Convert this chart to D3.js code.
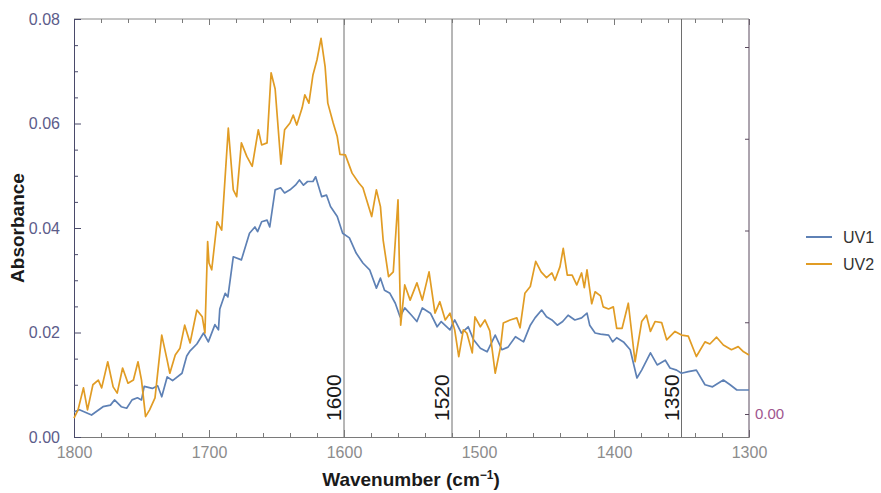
<!DOCTYPE html>
<html>
<head>
<meta charset="utf-8">
<script src="https://cdn.jsdelivr.net/npm/d3@7"></script>
<style>
  html, body { margin: 0; padding: 0; background: #fff; }
  svg { display: block; font-family: "Liberation Sans", Arial, sans-serif; }
</style>
</head>
<body>
<svg id="chart" width="881" height="493"></svg>
<script>
// IR absorbance spectra, wavenumber (cm^-1) vs absorbance
const uv1Wavenumber = [1800,1796,1787,1778.5,1773,1770,1765,1761,1757,1753,1750,1748,1742,1738,1735,1731,1727,1720,1716.5,1714,1709,1704,1700.5,1695.6,1693,1692,1688,1686,1682,1676,1670,1666,1664,1661,1657,1655,1651,1647,1644,1640,1636,1633,1630,1627,1623,1621,1616.5,1613,1610,1605,1601,1596,1591,1586,1581,1576,1573,1570,1566,1562,1558.5,1555,1550,1546,1542,1536,1531,1528,1521.5,1518,1513,1508,1504,1499,1494,1488,1483,1478.5,1473,1467,1462,1458.5,1453.6,1450,1446,1442,1438,1434,1429,1424,1420,1418,1414,1410,1404,1401,1398,1393,1388,1383,1379.5,1373,1368,1362,1358.5,1353.6,1350,1345,1339,1332.6,1327,1319,1314,1309,1304,1300];
const uv1Absorbance = [0.0048,0.0052,0.0042,0.0058,0.0061,0.0071,0.0058,0.0055,0.0071,0.0075,0.0071,0.0097,0.0093,0.0098,0.0077,0.0115,0.0108,0.0122,0.0155,0.0165,0.0178,0.0199,0.0182,0.0215,0.0205,0.0245,0.0275,0.0268,0.0345,0.0339,0.0390,0.0402,0.0393,0.0412,0.0415,0.0402,0.0473,0.0477,0.0467,0.0473,0.0482,0.0492,0.0482,0.0489,0.0489,0.0498,0.0460,0.0463,0.0441,0.0422,0.0390,0.0381,0.0352,0.0333,0.0320,0.0285,0.0304,0.0281,0.0275,0.0256,0.0230,0.0247,0.0233,0.0221,0.0247,0.0237,0.0211,0.0221,0.0205,0.0224,0.0199,0.0211,0.0186,0.0170,0.0163,0.0195,0.0167,0.0172,0.0192,0.0182,0.0214,0.0228,0.0243,0.0230,0.0224,0.0214,0.0221,0.0233,0.0224,0.0228,0.0237,0.0214,0.0199,0.0197,0.0195,0.0182,0.0190,0.0182,0.0167,0.0113,0.0128,0.0161,0.0138,0.0147,0.0132,0.0128,0.0122,0.0125,0.0128,0.0100,0.0096,0.0109,0.0100,0.0090,0.0090,0.0090];

const uv2Wavenumber = [1800,1797,1793,1790,1786,1782,1779.5,1775,1771,1768,1764,1760,1756,1752.6,1750,1747,1744,1740,1735,1731,1729,1725,1721.5,1718,1714,1709,1705,1703,1701,1700,1698,1694,1690.6,1685.7,1682,1679.5,1676,1672,1668,1663.5,1661,1657,1654,1651,1646.7,1644,1640,1637.6,1635,1631,1629,1626,1623,1620,1617,1614,1612,1608,1605,1603,1599,1594,1589,1586,1579.5,1576,1573,1571,1567,1563.5,1560,1558,1555,1551,1546,1542,1537,1532.6,1529,1525,1521.5,1518,1515,1511.6,1509,1505,1503,1499,1495.6,1492,1488,1484,1482,1477,1472,1469.6,1466,1462,1458,1454,1450,1446,1443.7,1440,1437.6,1434.6,1431,1427.6,1424,1422,1420,1416.5,1414,1410,1408,1404,1400.5,1398,1394,1389.4,1384.4,1379.5,1376,1373,1369.6,1364.7,1361,1354.8,1350,1345,1339,1332.6,1329,1324,1319,1313,1308,1304,1300];
const uv2Absorbance = [0.0036,0.0052,0.0094,0.0052,0.0100,0.0109,0.0094,0.0144,0.0096,0.0084,0.0132,0.0103,0.0109,0.0144,0.0109,0.0039,0.0052,0.0075,0.0195,0.0147,0.0122,0.0157,0.0170,0.0214,0.0180,0.0243,0.0230,0.0199,0.0374,0.0333,0.0320,0.0412,0.0396,0.0591,0.0473,0.0460,0.0563,0.0537,0.0518,0.0588,0.0559,0.0563,0.0697,0.0666,0.0522,0.0588,0.0601,0.0616,0.0597,0.0630,0.0655,0.0639,0.0693,0.0722,0.0763,0.0709,0.0639,0.0601,0.0575,0.0541,0.0540,0.0505,0.0486,0.0477,0.0422,0.0473,0.0441,0.0377,0.0307,0.0316,0.0454,0.0214,0.0291,0.0262,0.0295,0.0262,0.0316,0.0237,0.0259,0.0224,0.0237,0.0205,0.0154,0.0205,0.0199,0.0161,0.0230,0.0211,0.0224,0.0203,0.0122,0.0173,0.0218,0.0224,0.0228,0.0209,0.0275,0.0288,0.0336,0.0316,0.0305,0.0314,0.0300,0.0326,0.0361,0.0310,0.0310,0.0291,0.0314,0.0286,0.0320,0.0255,0.0278,0.0270,0.0249,0.0245,0.0249,0.0208,0.0208,0.0256,0.0144,0.0221,0.0233,0.0202,0.0221,0.0219,0.0186,0.0202,0.0195,0.0193,0.0154,0.0182,0.0178,0.0191,0.0176,0.0167,0.0173,0.0163,0.0157];

const seriesNames = ["UV1", "UV2"];
const seriesColors = ["#5e81b5", "#e19c24"];

const xDomain = [1800, 1300];
const yDomain = [0, 0.08];
const xMajorTicks = [1800, 1700, 1600, 1500, 1400, 1300];
const yMajorTicks = [0, 0.02, 0.04, 0.06, 0.08];
const rightTicks = [0, 0.02, 0.04, 0.06, 0.08];
const markerLines = [1600, 1520, 1350];

const svg = d3.select("#chart");
const plotLeft = 74, plotRight = 749, plotTop = 19, plotBottom = 437;

const x = d3.scaleLinear().domain(xDomain).range([plotLeft, plotRight]);
const y = d3.scaleLinear().domain(yDomain).range([plotBottom, plotTop]);
const yRight = d3.scaleLinear().domain([0, 0.08]).range([414, 47]);

const xMinor = d3.range(1800, 1299, -20).filter(v => v % 100 !== 0);
const yMinor = d3.range(0, 0.0801, 0.005).filter(v => Math.abs(v / 0.02 - Math.round(v / 0.02)) > 1e-6);

// frame: top edge
svg.append("line").attr("x1", plotLeft).attr("x2", plotRight).attr("y1", plotTop).attr("y2", plotTop)
  .attr("stroke", "#8a8a8a").attr("stroke-width", 1);

// marker lines
svg.append("g").selectAll("line").data(markerLines).join("line")
  .attr("x1", d => x(d)).attr("x2", d => x(d))
  .attr("y1", plotTop).attr("y2", plotBottom)
  .attr("stroke", "#6e6e6e").attr("stroke-width", 1);

// bottom axis
const xAxisB = svg.append("g").attr("transform", `translate(0,${plotBottom})`)
  .call(d3.axisBottom(x).tickValues(xMajorTicks).tickSize(-7).tickPadding(10).tickFormat(d3.format("d")));
xAxisB.select(".domain").attr("stroke", "#7a7a7a");
xAxisB.selectAll(".tick line").attr("stroke", "#7a7a7a");
xAxisB.selectAll("text").attr("fill", "#8c8c8c").style("font-size", "16px")
  .style("font-family", "'Liberation Sans', Arial, sans-serif");
svg.append("g").attr("transform", `translate(0,${plotBottom})`)
  .call(d3.axisBottom(x).tickValues(xMinor).tickSize(-4).tickFormat(""))
  .call(g => g.select(".domain").remove())
  .selectAll(".tick line").attr("stroke", "#7a7a7a");

// top axis ticks
svg.append("g").attr("transform", `translate(0,${plotTop})`)
  .call(d3.axisTop(x).tickValues(xMajorTicks).tickSize(-6).tickFormat(""))
  .call(g => g.select(".domain").remove())
  .selectAll(".tick line").attr("stroke", "#7a7a7a");
svg.append("g").attr("transform", `translate(0,${plotTop})`)
  .call(d3.axisTop(x).tickValues(xMinor).tickSize(-4).tickFormat(""))
  .call(g => g.select(".domain").remove())
  .selectAll(".tick line").attr("stroke", "#7a7a7a");

// left axis
const yAxisL = svg.append("g").attr("transform", `translate(${plotLeft},0)`)
  .call(d3.axisLeft(y).tickValues(yMajorTicks).tickSize(-7).tickPadding(14).tickFormat(d3.format(".2f")));
yAxisL.select(".domain").attr("stroke", "#4a4a6a");
yAxisL.selectAll(".tick line").attr("stroke", "#4a4a6a");
yAxisL.selectAll("text").attr("fill", "#5c5c8a").style("font-size", "16px")
  .style("font-family", "'Liberation Sans', Arial, sans-serif");
svg.append("g").attr("transform", `translate(${plotLeft},0)`)
  .call(d3.axisLeft(y).tickValues(yMinor).tickSize(-4).tickFormat(""))
  .call(g => g.select(".domain").remove())
  .selectAll(".tick line").attr("stroke", "#4a4a6a");

// right axis
const yAxisR = svg.append("g").attr("transform", `translate(${plotRight},0)`)
  .call(d3.axisRight(yRight).tickValues(rightTicks).tickSize(-4).tickPadding(6)
    .tickFormat(d => d === 0 ? "0.00" : ""));
yAxisR.select(".domain").attr("stroke", "#5a4a5e").attr("d", `M0,${plotTop}V${plotBottom}`);
yAxisR.selectAll(".tick line").attr("stroke", "#5a4a5e");
yAxisR.selectAll("text").attr("fill", "#a0568e").style("font-size", "15px")
  .style("font-family", "'Liberation Sans', Arial, sans-serif");

// spectra
const line = d3.line().x(d => x(d[0])).y(d => y(d[1]));
const series = [
  d3.zip(uv1Wavenumber, uv1Absorbance),
  d3.zip(uv2Wavenumber, uv2Absorbance)
];
svg.append("g").selectAll("path").data(series).join("path")
  .attr("d", line)
  .attr("fill", "none")
  .attr("stroke", (d, i) => seriesColors[i])
  .attr("stroke-width", 1.7)
  .attr("stroke-linejoin", "round");

// marker labels
svg.append("g").selectAll("text").data(markerLines).join("text")
  .attr("transform", d => `translate(${x(d) - 3},421) rotate(-90)`)
  .attr("fill", "#1a1a1a")
  .style("font-size", "21px")
  .text(d => d);

// axis titles
const xTitle = svg.append("text")
  .attr("x", 411).attr("y", 486)
  .attr("text-anchor", "middle")
  .style("font-size", "19px").style("font-weight", "bold").attr("fill", "#1a1a1a");
xTitle.append("tspan").text("Wavenumber (cm");
xTitle.append("tspan").attr("dy", -7).style("font-size", "12px").text("−1");
xTitle.append("tspan").attr("dy", 7).text(")");

svg.append("text")
  .attr("transform", "translate(24,228) rotate(-90)")
  .attr("text-anchor", "middle")
  .style("font-size", "19px").style("font-weight", "bold").attr("fill", "#1a1a1a")
  .text("Absorbance");

// legend
const legend = svg.append("g").selectAll("g").data(seriesNames).join("g")
  .attr("transform", (d, i) => `translate(806,${237 + i * 27})`);
legend.append("line").attr("x1", 0).attr("x2", 26).attr("y1", 0).attr("y2", 0)
  .attr("stroke", (d, i) => seriesColors[i]).attr("stroke-width", 2);
legend.append("text").attr("x", 37).attr("y", 6)
  .style("font-size", "16px").attr("fill", "#333").text(d => d);
</script>
</body>
</html>
